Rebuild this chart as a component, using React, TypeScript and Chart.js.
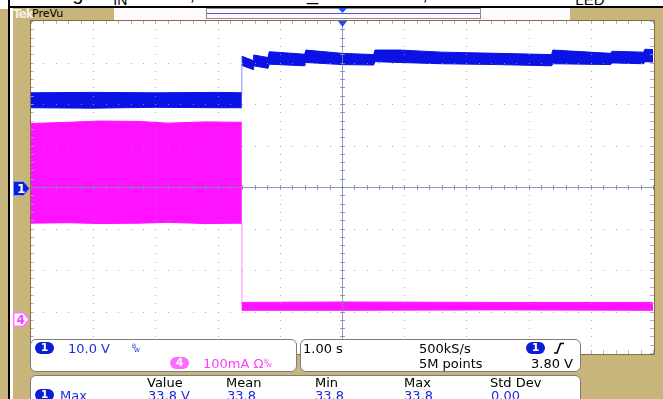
import React, { useEffect, useRef } from "react";
import { Chart, registerables } from "chart.js";

Chart.register(...registerables);

// ---- Data (time in seconds, 1 s/div, trigger at 0) ----
// Channel 1 (blue): voltage envelope, volts (10 V/div)
const ch1Time = [-5, -4, -3, -2, -1.61, -1.61, -1.43, -1.42, -1.19, -1.17, -0.6, -0.58, 0, 0.51, 0.53, 0.93, 1.6, 2.5, 3.37, 3.39, 4.32, 4.34, 4.85, 4.87, 5];
const ch1Upper = [23.2, 23.3, 23.2, 23.3, 23.2, 32.0, 31.0, 32.3, 31.7, 33.1, 32.5, 33.5, 32.7, 32.4, 33.5, 33.5, 33.0, 32.7, 32.4, 33.5, 32.7, 33.2, 33.0, 33.7, 33.6];
const ch1Lower = [19.6, 19.5, 19.7, 19.6, 19.6, 29.8, 28.8, 29.7, 29.1, 30.1, 29.7, 30.5, 30.0, 29.9, 30.7, 30.5, 30.2, 30.0, 29.7, 30.2, 30.0, 30.4, 30.2, 30.7, 30.6];

// Channel 4 (magenta): current envelope, mA (100 mA/div)
const ch4Time = [-5, -4.4, -3.9, -3.25, -2.8, -2.2, -1.61, -1.61, 0, 2.5, 5];
const ch4Upper = [471, 474, 477, 476, 472, 475, 474, 40, 41, 40, 40];
const ch4Lower = [231, 232, 230, 231, 233, 230, 231, 21, 21, 22, 21];

// Readout texts
const measHeaders = ["Value", "Mean", "Min", "Max", "Std Dev"];
const measValues = ["33.8 V", "33.8", "33.8", "33.8", "0.00"];
const measX = [147, 226, 315, 404, 490];
const valX = [148, 227, 315, 404, 491];

const BLUE = "#0a12e6";
const MAGENTA = "#ff12ff";
const TAN = "#c8b57b";
const TXT_BLUE = "#1b2ee0";
const TXT_MAG = "#ff3cff";

const pts = (xs: number[], ys: number[]) => xs.map((x, i) => ({ x, y: ys[i] }));
const isVertical = (c: any) => c.p0.parsed.x === c.p1.parsed.x;

const graticule = {
  id: "graticule",
  afterDatasetsDraw(chart: any) {
    const { ctx, scales, chartArea } = chart;
    const xs = scales.x;
    const yd = scales.yDiv;
    const L = chartArea.left, R = chartArea.right, T = chartArea.top, B = chartArea.bottom;
    ctx.save();
    ctx.fillStyle = "rgba(150,156,188,0.85)";
    for (let k = 0; k <= 10; k++) {
      const px = Math.round(Math.min(xs.getPixelForValue(-5 + k), R));
      for (let m = 0; m <= 40; m++) {
        const py = Math.round(yd.getPixelForValue(-4 + m * 0.2));
        ctx.fillRect(px, py, 1, 1);
      }
    }
    for (let k = 0; k <= 8; k++) {
      const py = Math.round(Math.min(yd.getPixelForValue(-4 + k), B));
      for (let m = 0; m <= 50; m++) {
        const px = Math.round(xs.getPixelForValue(-5 + m * 0.2));
        ctx.fillRect(px, py, 1, 1);
      }
    }
    ctx.fillStyle = "rgba(160,165,190,0.8)";
    for (let m = 0; m <= 50; m++) {
      const px = Math.round(xs.getPixelForValue(-5 + m * 0.2));
      ctx.fillRect(px, T, 1, 3);
      ctx.fillRect(px, B - 3, 1, 3);
    }
    for (let m = 0; m <= 40; m++) {
      const py = Math.round(yd.getPixelForValue(-4 + m * 0.2));
      ctx.fillRect(L, py, 3, 1);
      ctx.fillRect(R - 3, py, 3, 1);
    }
    const cx = Math.round(xs.getPixelForValue(0));
    const cy = Math.round(yd.getPixelForValue(0));
    ctx.fillStyle = "rgba(120,138,180,0.85)";
    ctx.fillRect(cx, T, 1, B - T);
    ctx.fillRect(L, cy, R - L, 1);
    for (let m = 0; m <= 50; m++) {
      const px = Math.round(xs.getPixelForValue(-5 + m * 0.2));
      ctx.fillRect(px, cy - 2, 1, 5);
    }
    for (let m = 0; m <= 40; m++) {
      const py = Math.round(yd.getPixelForValue(-4 + m * 0.2));
      ctx.fillRect(cx - 2, py, 5, 1);
    }
    ctx.restore();
  },
};

const abs = (left: number, top: number, extra: any = {}) => ({ position: "absolute" as const, left, top, ...extra });

function T(props: { x: number; y: number; c?: string; s?: number; b?: boolean; ls?: number; children: any }) {
  const s = props.s ?? 13;
  return (
    <div style={abs(props.x, props.y, { fontSize: s, lineHeight: `${s}px`, color: props.c ?? "#000", whiteSpace: "nowrap", fontWeight: props.b ? "bold" : "normal", letterSpacing: props.ls ?? 0 })}>
      {props.children}
    </div>
  );
}

function Pill(props: { x: number; y: number; bg: string; label: string }) {
  return (
    <div style={abs(props.x, props.y, { width: 19, height: 12, borderRadius: 6, background: props.bg, color: "#fff", fontSize: 11, lineHeight: "12px", textAlign: "center", fontWeight: "bold" })}>
      {props.label}
    </div>
  );
}

export default function App() {
  const ref = useRef<HTMLCanvasElement>(null);
  useEffect(() => {
    const chart = new Chart(ref.current as HTMLCanvasElement, {
      type: "line",
      data: {
        datasets: [
          {
            label: "Ch1 upper",
            data: pts(ch1Time, ch1Upper),
            yAxisID: "yV",
            borderColor: BLUE,
            backgroundColor: BLUE,
            borderWidth: 1,
            pointRadius: 0,
            fill: "+1",
            segment: { borderColor: (c: any) => (isVertical(c) ? "rgba(120,125,255,0.9)" : undefined) },
          } as any,
          {
            label: "Ch1 lower",
            data: pts(ch1Time, ch1Lower),
            yAxisID: "yV",
            borderColor: BLUE,
            borderWidth: 1,
            pointRadius: 0,
            fill: false,
            segment: { borderColor: (c: any) => (isVertical(c) ? "rgba(0,0,0,0)" : undefined) },
          } as any,
          {
            label: "Ch4 upper",
            data: pts(ch4Time, ch4Upper),
            yAxisID: "yI",
            borderColor: MAGENTA,
            backgroundColor: MAGENTA,
            borderWidth: 1,
            pointRadius: 0,
            fill: "+1",
            segment: { borderColor: (c: any) => (isVertical(c) ? "rgba(0,0,0,0)" : undefined) },
          } as any,
          {
            label: "Ch4 lower",
            data: pts(ch4Time, ch4Lower),
            yAxisID: "yI",
            borderColor: MAGENTA,
            borderWidth: 1,
            pointRadius: 0,
            fill: false,
            segment: { borderColor: (c: any) => (isVertical(c) ? "rgba(255,120,255,0.35)" : undefined) },
          } as any,
        ],
      },
      options: {
        animation: false,
        responsive: false,
        maintainAspectRatio: false,
        layout: { padding: { left: 0, top: 0, right: 1, bottom: 1 } },
        plugins: { legend: { display: false }, tooltip: { enabled: false } },
        elements: { line: { tension: 0 } },
        scales: {
          x: { type: "linear", min: -5, max: 5, display: false },
          yV: { type: "linear", min: -39.5, max: 40.5, display: false },
          yI: { type: "linear", min: -81.9, max: 718.1, display: false },
          yDiv: { type: "linear", min: -4, max: 4, display: false },
        },
      } as any,
      plugins: [graticule],
    });
    return () => chart.destroy();
  }, []);

  return (
    <div style={{ position: "fixed", left: 0, top: 0, width: 663, height: 399, overflow: "hidden", background: "#fff", fontFamily: '"DejaVu Sans", Verdana, sans-serif' }}>
      {/* clipped caption line above the screenshot */}
      <div style={abs(0, 0, { width: 663, height: 6, overflow: "hidden", fontFamily: '"Liberation Sans", Arial, sans-serif', fontSize: 20, lineHeight: "20px", color: "#000" })}>
        <span style={abs(24, -17, { whiteSpace: "nowrap" })}>Timing</span>
        <span style={abs(100, -17, { whiteSpace: "nowrap" })}>V<span style={{ fontSize: 14, position: "relative", top: 5 }}>IN</span> = 24 V,</span>
        <span style={abs(258, -17, { whiteSpace: "nowrap" })}>PWM_DIM = 3.3 V,</span>
        <span style={abs(562, -17, { whiteSpace: "nowrap" })}>V<span style={{ fontSize: 15, position: "relative", top: 5 }}>LED</span></span>
      </div>
      {/* frame */}
      <div style={abs(8, 6, { width: 655, height: 2, background: "#000" })} />
      <div style={abs(0, 9, { width: 8, height: 390, background: TAN })} />
      <div style={abs(8, 0, { width: 2, height: 399, background: "#000" })} />
      <div style={abs(13, 8, { width: 650, height: 391, background: TAN })} />
      {/* header */}
      <T x={13} y={8} c="#f6f0de" s={12} b ls={-1}>Tek</T>
      <T x={32} y={8} c="#000" s={11}>PreVu</T>
      <div style={abs(114, 8, { width: 456, height: 12, background: "#fdf9fd" })} />
      <div style={abs(206, 8, { width: 275, height: 11, border: "1px solid #8c8c8c", boxSizing: "border-box" })} />
      <div style={abs(207, 13, { width: 273, height: 1, background: "#4458e6" })} />
      <svg style={abs(338, 8)} width={9} height={5}><polygon points="0,0 9,0 4.5,5" fill="#1a4cff" /></svg>
      {/* plot */}
      <div style={abs(30, 20, { width: 625, height: 335, border: "1px solid #8a6d3b", boxSizing: "border-box", background: "#fff" })} />
      <canvas ref={ref} width={623} height={333} style={abs(31, 21, { width: 623, height: 333 })} />
      <svg style={abs(338, 21)} width={9} height={6}><polygon points="0,0 9,0 4.5,6" fill="#1a4cff" /></svg>
      {/* channel markers */}
      <svg style={abs(13, 181)} width={17} height={15}>
        <polygon points="0.5,0.5 10.5,0.5 16.5,7.5 10.5,14.5 0.5,14.5" fill="#0a1ed8" stroke="#7f93ff" strokeWidth={1} />
        <text x={4} y={12} fill="#fff" fontSize={12} fontWeight="bold" fontFamily="DejaVu Sans">1</text>
      </svg>
      <svg style={abs(13, 312)} width={17} height={15}>
        <polygon points="0.75,0.75 10.5,0.75 16,7.5 10.5,14.25 0.75,14.25" fill="#fff" stroke="#ff78ff" strokeWidth={1.5} />
        <text x={3.5} y={12} fill="#ff40ff" fontSize={12} fontWeight="bold" fontFamily="DejaVu Sans">4</text>
      </svg>
      {/* readout box 1 */}
      <div style={abs(30, 339, { width: 267, height: 33, border: "1px solid #7c7c7c", borderRadius: 6, background: "#fff", boxSizing: "border-box" })} />
      <Pill x={35} y={342} bg="#0a1ed8" label="1" />
      <T x={68} y={342} c={TXT_BLUE}>10.0 V</T>
      <T x={132} y={343} c={TXT_BLUE} s={6}>B</T>
      <T x={134} y={347} c={TXT_BLUE} s={6}>W</T>
      <Pill x={170} y={357} bg="#ff6bff" label="4" />
      <T x={203} y={357} c={TXT_MAG}>100mA Ω</T>
      <T x={264} y={358} c={TXT_MAG} s={6}>B</T>
      <T x={266} y={362} c={TXT_MAG} s={6}>W</T>
      {/* readout box 2 */}
      <div style={abs(300, 339, { width: 281, height: 33, border: "1px solid #7c7c7c", borderRadius: 6, background: "#fff", boxSizing: "border-box" })} />
      <T x={303} y={342}>1.00 s</T>
      <T x={419} y={342}>500kS/s</T>
      <Pill x={526} y={342} bg="#0a1ed8" label="1" />
      <svg style={abs(553, 342)} width={12} height={12}><path d="M1 11 L4 11 L7.5 1.5 L11 1.5" stroke="#000" strokeWidth={1.6} fill="none" /></svg>
      <T x={419} y={357}>5M points</T>
      <T x={531} y={357}>3.80 V</T>
      {/* measurement box */}
      <div style={abs(30, 375, { width: 551, height: 40, border: "1px solid #7c7c7c", borderRadius: 6, background: "#fff", boxSizing: "border-box" })} />
      {measHeaders.map((h, i) => (
        <T key={h} x={measX[i]} y={376}>{h}</T>
      ))}
      <Pill x={35} y={389} bg="#0a1ed8" label="1" />
      <T x={60} y={389} c={TXT_BLUE}>Max</T>
      {measValues.map((v, i) => (
        <T key={i} x={valX[i]} y={389} c={TXT_BLUE}>{v}</T>
      ))}
    </div>
  );
}
